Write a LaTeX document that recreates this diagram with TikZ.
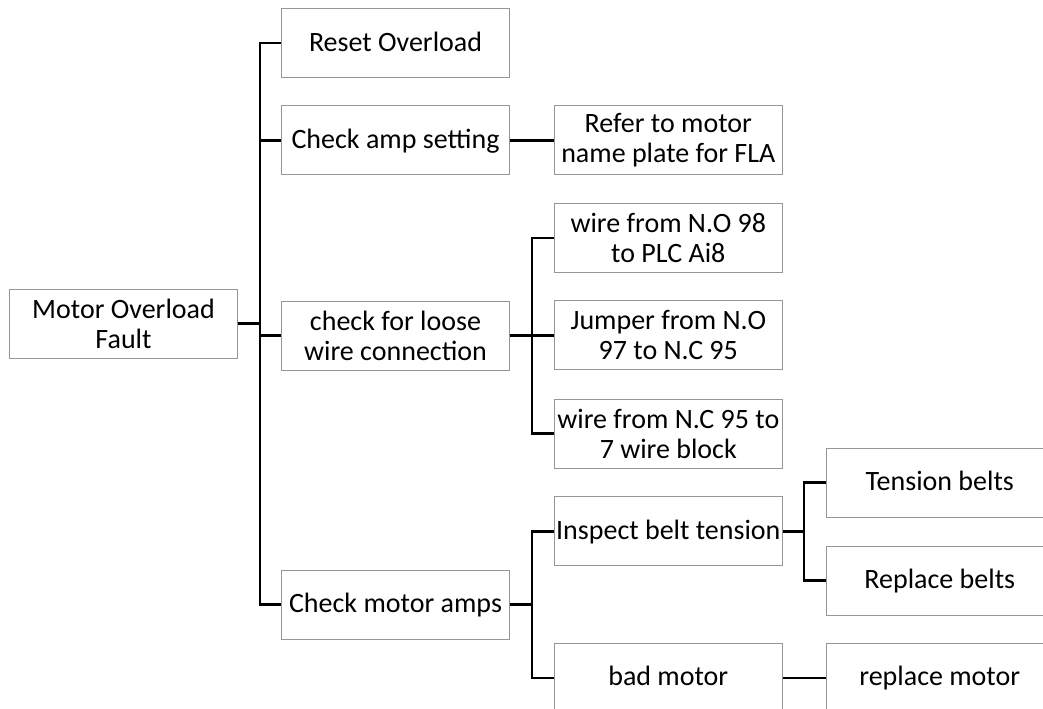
\documentclass[tikz,border=0pt]{standalone}
\usepackage{fontspec}
\setmainfont{Carlito}
\usepackage{tikz}
\definecolor{boxgray}{RGB}{150,150,150}

\tikzset{
  stepbox/.style={draw=boxgray, line width=0.75pt, fill=white, minimum width=170.6pt, minimum height=51.75pt,
    inner sep=0.5pt, align=center, font=\fontsize{21}{22.5}\selectfont},
  oneline/.style={text height=16pt, text depth=4pt},
  link/.style={draw=black, line width=1.8pt}
}

\begin{document}
\begin{tikzpicture}[x=0.75pt,y=0.75pt,yscale=-1,xscale=1]
\clip (0,0) rectangle (1043,708);
\fill[white] (0,0) rectangle (1043,708);

% trunk positions
\coordinate (t1) at (260,0);
\coordinate (t2) at (531.7,0);
\coordinate (t3) at (804,0);

% Root
\node[stepbox] (fault) at (123.5,323.5) {Motor Overload\\Fault};

% First level
\node[stepbox,oneline] (reset) at (395.5,43) {Reset Overload};
\node[stepbox,oneline] (ampset) at (395.5,140.3) {Check amp setting};
\node[stepbox] (loose) at (395.5,335.5) {check for loose\\wire connection};
\node[stepbox,oneline] (amps) at (395.5,604.5) {Check motor amps};

% Second level
\node[stepbox] (plate) at (668.3,140.3) {Refer to motor\\name plate for FLA};
\node[stepbox] (wireplc) at (668.3,238) {wire from N.O 98\\to PLC Ai8};
\node[stepbox] (jumper) at (668.3,335.3) {Jumper from N.O\\97 to N.C 95};
\node[stepbox] (wireblk) at (668.3,433.5) {wire from N.C 95 to\\7 wire block};
\node[stepbox,oneline] (belt) at (668.3,531.3) {Inspect belt tension};
\node[stepbox,oneline] (badmotor) at (668.3,677.7) {bad motor};

% Third level
\node[stepbox,oneline] (tension) at (939.75,482.5) {Tension belts};
\node[stepbox,oneline] (newbelts) at (939.75,580.5) {Replace belts};
\node[stepbox,oneline] (newmotor) at (939.75,677.7) {replace motor};

% Connectors
\foreach \kid in {reset,ampset,loose,amps}
  \draw[link] (fault.east) -- (t1 |- fault.east) |- (\kid.west);
\draw[link] (ampset.east) -- (plate.west);
\foreach \kid in {wireplc,jumper,wireblk}
  \draw[link] (loose.east) -- (t2 |- loose.east) |- (\kid.west);
\foreach \kid in {belt,badmotor}
  \draw[link] (amps.east) -- (t2 |- amps.east) |- (\kid.west);
\foreach \kid in {tension,newbelts}
  \draw[link] (belt.east) -- (t3 |- belt.east) |- (\kid.west);
\draw[link] (badmotor.east) -- (newmotor.west);

\end{tikzpicture}
\end{document}
